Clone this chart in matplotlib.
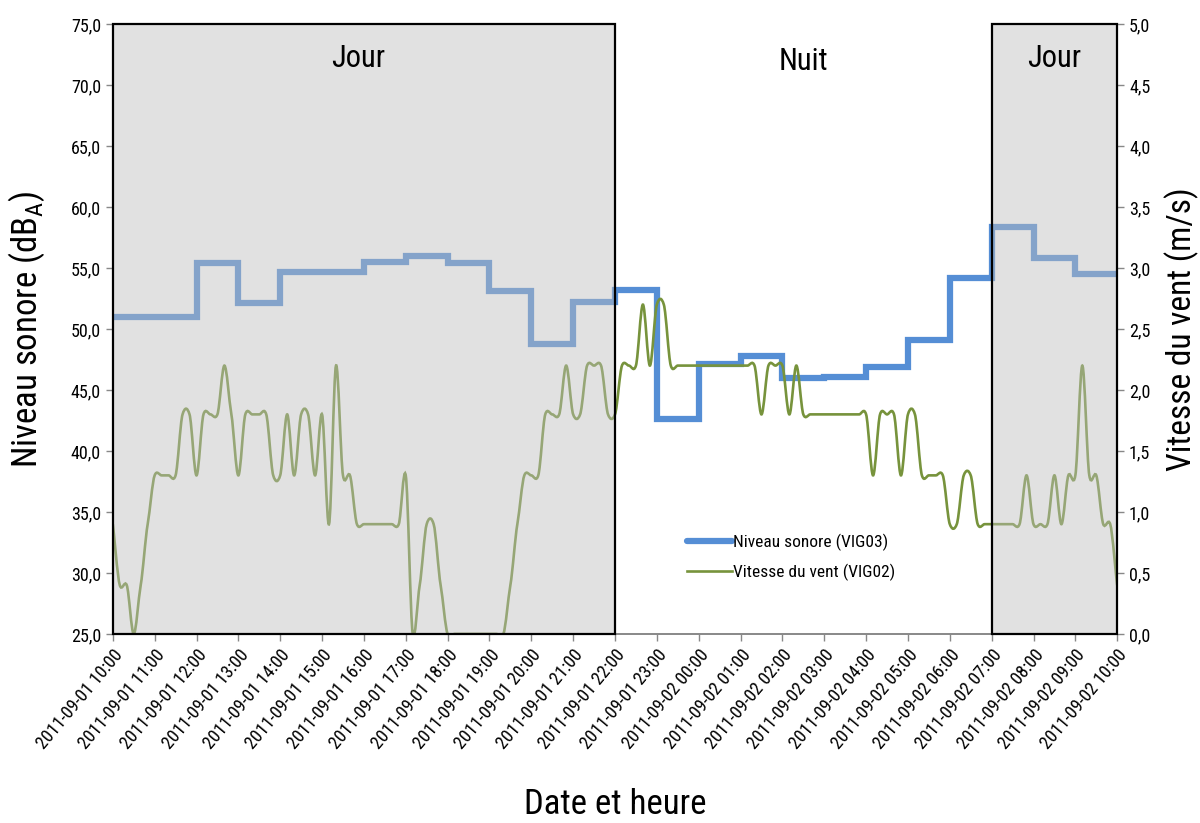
import numpy as np
import pandas as pd
import matplotlib
matplotlib.use("Agg")
import matplotlib.pyplot as plt
import matplotlib.dates as mdates
from matplotlib.path import Path
from matplotlib.patches import PathPatch, Rectangle
from matplotlib.lines import Line2D
from matplotlib.ticker import FuncFormatter
from matplotlib import font_manager

# pick a narrow font if one is there, else an Arial-like one
names = {f.name for f in font_manager.fontManager.ttflist}
narrow = [n for n in ["Liberation Sans Narrow", "Roboto Condensed", "Open Sans Condensed",
                      "Noto Sans Condensed", "Liberation Sans"] if n in names]
plt.rcParams['font.family'] = narrow[:1] + ['DejaVu Sans']
plt.rcParams['mathtext.fontset'] = 'custom'
plt.rcParams['mathtext.rm'] = narrow[0] if narrow else 'DejaVu Sans'

# Hourly sound level (dBA), VIG03, from 2011-09-01 10:00
noise_start = "2011-09-01 10:00"
noise_values = [51.0, 51.0, 55.4, 52.1, 54.7, 54.7, 55.5, 56.0, 55.4, 53.1, 48.8, 52.2,
                53.2, 42.6, 47.1, 47.8, 46.0, 46.1, 46.9, 49.1, 54.2, 58.4, 55.8, 54.5]

# Wind speed (m/s), VIG02, every 10 minutes
wind_values = [
    0.9, 0.4, 0.4, 0.0, 0.4, 0.9,   # 10h
    1.3, 1.3, 1.3, 1.3, 1.8, 1.8,   # 11h
    1.3, 1.8, 1.8, 1.8, 2.2, 1.8,   # 12h
    1.3, 1.8, 1.8, 1.8, 1.8, 1.3,   # 13h
    1.3, 1.8, 1.3, 1.8, 1.8, 1.3,   # 14h
    1.8, 0.9, 2.2, 1.3, 1.3, 0.9,   # 15h
    0.9, 0.9, 0.9, 0.9, 0.9, 0.9,   # 16h
    1.3, 0.0, 0.4, 0.9, 0.9, 0.4,   # 17h
    0.0, 0.0, 0.0, 0.0, 0.0, 0.0,   # 18h
    0.0, 0.0, 0.0, 0.4, 0.9, 1.3,   # 19h
    1.3, 1.3, 1.8, 1.8, 1.8, 2.2,   # 20h
    1.8, 1.8, 2.2, 2.2, 2.2, 1.8,   # 21h
    1.8, 2.2, 2.2, 2.2, 2.7, 2.2,   # 22h
    2.7, 2.7, 2.2, 2.2, 2.2, 2.2,   # 23h
    2.2, 2.2, 2.2, 2.2, 2.2, 2.2,   # 00h
    2.2, 2.2, 2.2, 1.8, 2.2, 2.2,   # 01h
    2.2, 1.8, 2.2, 1.8, 1.8, 1.8,   # 02h
    1.8, 1.8, 1.8, 1.8, 1.8, 1.8,   # 03h
    1.8, 1.3, 1.8, 1.8, 1.8, 1.3,   # 04h
    1.8, 1.8, 1.3, 1.3, 1.3, 1.3,   # 05h
    0.9, 0.9, 1.3, 1.3, 0.9, 0.9,   # 06h
    0.9, 0.9, 0.9, 0.9, 0.9, 1.3,   # 07h
    0.9, 0.9, 0.9, 1.3, 0.9, 1.3,   # 08h
    1.3, 2.2, 1.3, 1.3, 0.9, 0.9,   # 09h
    0.4,                            # 10h
]

# Day / night periods
periods = [("Jour", "2011-09-01 10:00", "2011-09-01 22:00"),
           ("Nuit", "2011-09-01 22:00", "2011-09-02 07:00"),
           ("Jour", "2011-09-02 07:00", "2011-09-02 10:00")]

noise_t = pd.date_range(noise_start, periods=len(noise_values) + 1, freq="h")
wind_t = pd.date_range(noise_start, periods=len(wind_values), freq="10min")

blue = "#558ED5"
green = "#77933C"
grey = "#888888"


def smooth_path(x, y, k=8.0):
    # cardinal-spline bezier, like a spreadsheet "smoothed line"
    x = np.asarray(x, float)
    y = np.asarray(y, float)
    px = np.concatenate([[x[0]], x, [x[-1]]])
    py = np.concatenate([[y[0]], y, [y[-1]]])
    verts = [(x[0], y[0])]
    codes = [Path.MOVETO]
    for i in range(1, len(px) - 2):
        c1 = (px[i] + (px[i + 1] - px[i - 1]) / 6, py[i] + (py[i + 1] - py[i - 1]) / k)
        c2 = (px[i + 1] - (px[i + 2] - px[i]) / 6, py[i + 1] - (py[i + 2] - py[i]) / k)
        verts += [c1, c2, (px[i + 1], py[i + 1])]
        codes += [Path.CURVE4] * 3
    return Path(verts, codes)


def comma(v, p):
    return f"{v:.1f}".replace(".", ",")


fig = plt.figure(figsize=(12, 8.23), dpi=100)
ax = fig.add_axes([0.094, 0.2297, 0.837, 0.7411])
ax2 = ax.twinx()

ax.step(mdates.date2num(noise_t), noise_values + [noise_values[-1]], where="post",
        color=blue, lw=4.5, solid_joinstyle="miter")
ax.set_ylim(25, 75)
ax.set_yticks(np.arange(25, 75.1, 5))
ax.yaxis.set_major_formatter(FuncFormatter(comma))

wind_path = smooth_path(mdates.date2num(wind_t), wind_values)
ax2.add_patch(PathPatch(wind_path, facecolor="none", edgecolor=green, lw=1.9, zorder=2))
ax2.set_ylim(0, 5)
ax2.set_yticks(np.arange(0, 5.01, 0.5))
ax2.yaxis.set_major_formatter(FuncFormatter(comma))

x0 = mdates.date2num(pd.Timestamp("2011-09-01 10:00"))
x1 = mdates.date2num(pd.Timestamp("2011-09-02 10:00"))
ax.set_xlim(x0, x1)
ax2.set_xlim(x0, x1)
ax.set_xticks(mdates.date2num(noise_t))
ax.xaxis.set_major_formatter(mdates.DateFormatter("%Y-%m-%d %H:%M"))
for lab in ax.get_xticklabels():
    lab.set_rotation(50)
    lab.set_ha("right")
    lab.set_rotation_mode("anchor")

# shaded day boxes and period names
for name, a, b in periods:
    xa = mdates.date2num(pd.Timestamp(a))
    xb = mdates.date2num(pd.Timestamp(b))
    if name == "Jour":
        ax2.add_patch(Rectangle((xa, 0), xb - xa, 5, facecolor="#bebebe", alpha=0.45,
                                edgecolor="none", zorder=5))
        ax2.add_patch(Rectangle((xa, 0), xb - xa, 5, facecolor="none",
                                edgecolor="black", lw=1.6, zorder=6, clip_on=False))
    y = 4.72 if name == "Jour" else 4.69
    xc = (xa + xb) / 2 - (0.006 if name == "Jour" and xb - xa > 0.3 else 0)
    ax2.text(xc, y, name, ha="center", va="center", fontsize=22, zorder=7)

for a in (ax, ax2):
    a.spines["top"].set_visible(False)
    for s in ("left", "right", "bottom"):
        a.spines[s].set_color(grey)
        a.spines[s].set_linewidth(1.2)
    a.tick_params(axis="both", colors=grey, length=5, width=1, labelcolor="black", labelsize=13)
ax.tick_params(axis="x", labelsize=13)

ax.set_ylabel("Niveau sonore (dB$_\\mathrm{A}$)", fontsize=25)
ax.yaxis.set_label_coords(-0.066, 0.5)
ax2.set_ylabel("Vitesse du vent (m/s)", fontsize=24)
ax2.yaxis.set_label_coords(1.047, 0.5)
ax.set_xlabel("Date et heure", fontsize=25)
ax.xaxis.set_label_coords(0.5, -0.253)

handles = [Line2D([], [], color=blue, lw=4.5, solid_capstyle="round"),
           Line2D([], [], color=green, lw=1.9)]
ax2.legend(handles, ["Niveau sonore (VIG03)", "Vitesse du vent (VIG02)"],
           loc="upper left", bbox_to_anchor=(0.572, 0.165), frameon=False, borderpad=0,
           borderaxespad=0, fontsize=12.5, handlelength=2.6, handletextpad=0.05,
           labelspacing=0.75)

fig.savefig("out.png", dpi=100)
